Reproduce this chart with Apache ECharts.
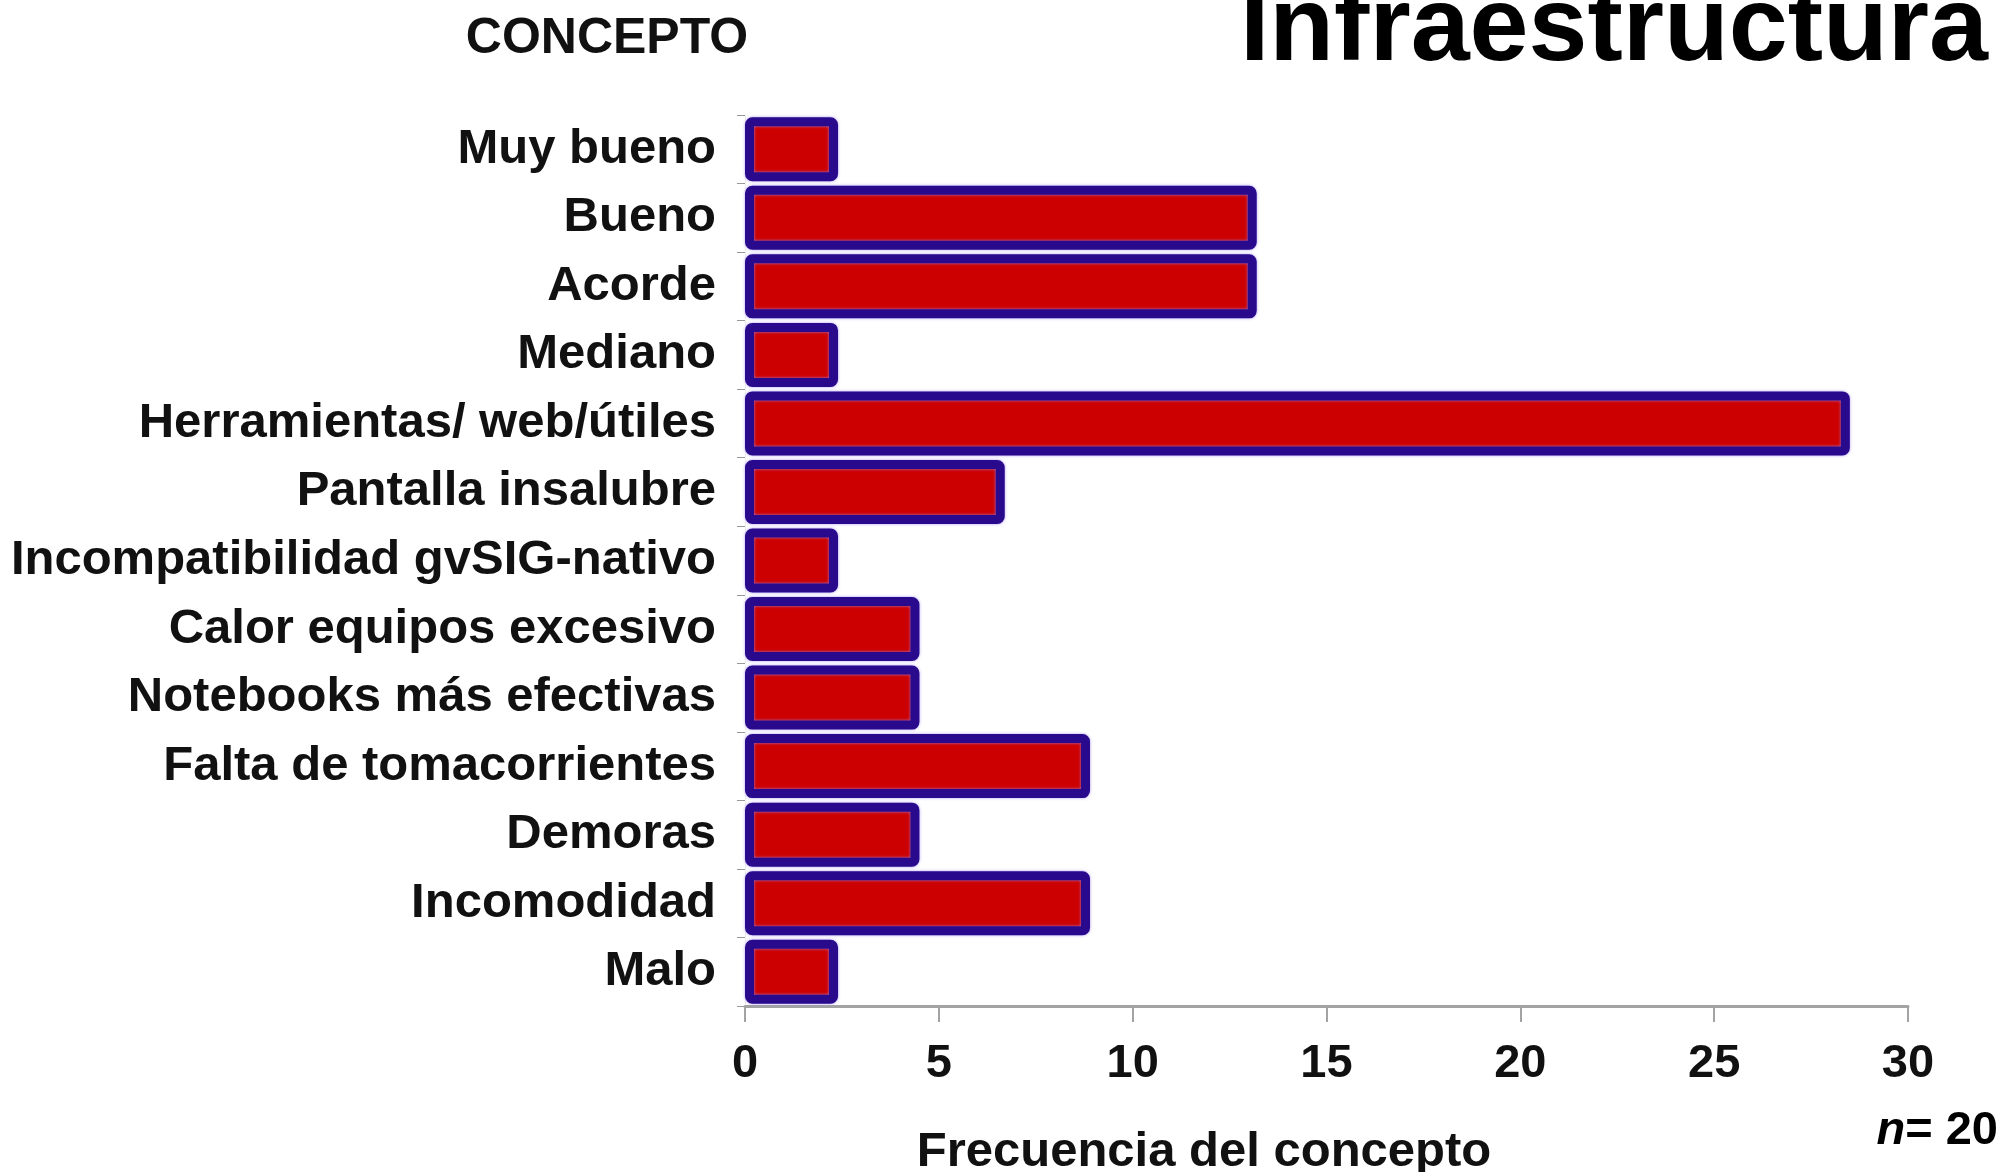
<!DOCTYPE html>
<html>
<head>
<meta charset="utf-8">
<title>Infraestructura</title>
<script src="https://cdn.jsdelivr.net/npm/echarts@6/dist/echarts.min.js"></script>
<style>
  html, body { margin: 0; padding: 0; background: #ffffff; }
  #chart { width: 2005px; height: 1172px; }
</style>
</head>
<body>
<div id="chart"></div>
<script>
// Conceptos (de arriba hacia abajo)
const categories = [
  'Muy bueno',
  'Bueno',
  'Acorde',
  'Mediano',
  'Herramientas/ web/útiles',
  'Pantalla insalubre',
  'Incompatibilidad gvSIG-nativo',
  'Calor equipos excesivo',
  'Notebooks más efectivas',
  'Falta de tomacorrientes',
  'Demoras',
  'Incomodidad',
  'Malo'
];

// Frecuencia del concepto
const frecuencia = [2.4, 13.2, 13.2, 2.4, 28.5, 6.7, 2.4, 4.5, 4.5, 8.9, 4.5, 8.9, 2.4];

const xTicks = [0, 5, 10, 15, 20, 25, 30];

const FONT = "'Liberation Sans', Arial, Helvetica, sans-serif";

const chart = echarts.init(document.getElementById('chart'), null, { renderer: 'canvas' });

chart.setOption({
  backgroundColor: '#ffffff',
  animation: false,
  grid: { left: 745, right: 97, top: 115, bottom: 166, containLabel: false },
  xAxis: {
    type: 'value',
    min: xTicks[0],
    max: xTicks[xTicks.length - 1],
    interval: 5,
    splitLine: { show: false },
    axisLine: { show: true, lineStyle: { color: '#a3a3a3', width: 3 } },
    axisTick: { show: true, length: 16, lineStyle: { color: '#a3a3a3', width: 2 } },
    axisLabel: {
      margin: 35,
      color: '#111111',
      fontFamily: FONT,
      fontWeight: 'bold',
      fontSize: 47
    }
  },
  yAxis: {
    type: 'category',
    inverse: true,
    data: categories,
    axisLine: { show: true, lineStyle: { color: '#eeeeee', width: 1 } },
    axisTick: { show: true, length: 8, lineStyle: { color: '#9a9a9a', width: 1 } },
    axisLabel: {
      margin: 29,
      color: '#111111',
      fontFamily: FONT,
      fontWeight: 'bold',
      fontSize: 49
    }
  },
  series: [{
    type: 'bar',
    data: frecuencia,
    barWidth: 64,
    itemStyle: {
      color: '#cc0000',
      borderColor: '#2a0a8c',
      borderWidth: 9,
      borderRadius: 3,
      shadowColor: 'rgba(160,140,245,0.9)',
      shadowBlur: 3
    }
  }],
  graphic: [
    {
      type: 'text',
      right: 17,
      top: -22,
      style: {
        text: 'Infraestructura',
        font: "bold 106px " + FONT,
        fill: '#000000'
      }
    },
    {
      type: 'text',
      x: 607,
      y: 39,
      style: {
        text: 'CONCEPTO',
        font: "bold 50px " + FONT,
        fill: '#111111',
        align: 'center',
        verticalAlign: 'middle'
      }
    },
    {
      type: 'text',
      x: 1204,
      y: 1152,
      style: {
        text: 'Frecuencia del concepto',
        font: "bold 49px " + FONT,
        fill: '#111111',
        align: 'center',
        verticalAlign: 'middle'
      }
    },
    {
      type: 'text',
      x: 1998,
      y: 1131,
      style: {
        text: '{i|n}{r|= 20}',
        align: 'right',
        verticalAlign: 'middle',
        rich: {
          i: { fontFamily: FONT, fontWeight: 'bold', fontStyle: 'italic', fontSize: 47, fill: '#000000' },
          r: { fontFamily: FONT, fontWeight: 'bold', fontSize: 47, fill: '#000000' }
        }
      }
    }
  ]
});
</script>
</body>
</html>
